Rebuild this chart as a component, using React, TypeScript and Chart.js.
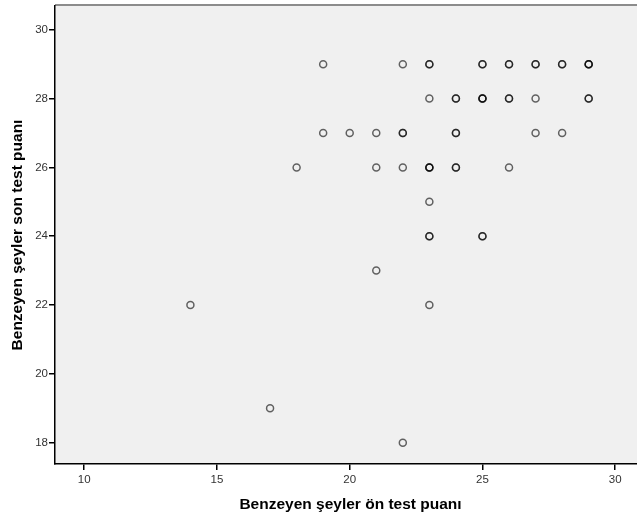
import React, { useEffect, useRef } from "react";
import { Chart, registerables } from "chart.js";

Chart.register(...registerables);

// Pre-test scores (x) and post-test scores (y); repeated pairs are overlapping observations
const preTest: number[] = [
  19, 22, 23, 23, 25, 25, 26, 26, 27, 27, 28, 28, 29, 29, 29,
  23, 24, 24, 25, 25, 25, 26, 26, 27, 29, 29,
  19, 20, 21, 22, 22, 24, 24, 27, 28,
  18, 21, 22, 23, 23, 23, 24, 24, 26,
  23,
  23, 23, 25, 25,
  21,
  14, 23,
  17,
  22,
];
const postTest: number[] = [
  29, 29, 29, 29, 29, 29, 29, 29, 29, 29, 29, 29, 29, 29, 29,
  28, 28, 28, 28, 28, 28, 28, 28, 28, 28, 28,
  27, 27, 27, 27, 27, 27, 27, 27, 27,
  26, 26, 26, 26, 26, 26, 26, 26, 26,
  25,
  24, 24, 24, 24,
  23,
  22, 22,
  19,
  18,
];

const xTicks: number[] = [10, 15, 20, 25, 30];
const yTicks: number[] = [18, 20, 22, 24, 26, 28, 30];

const xTitle = "Benzeyen şeyler ön test puanı";
const yTitle = "Benzeyen şeyler son test puanı";

export default function App() {
  const ref = useRef<HTMLCanvasElement | null>(null);

  useEffect(() => {
    if (!ref.current) return;
    const bgPlugin = {
      id: "bgPlugin",
      beforeDraw(chart: any) {
        const { ctx, chartArea } = chart;
        ctx.save();
        ctx.fillStyle = "#f0f0f0";
        ctx.fillRect(chartArea.left, chartArea.top, chartArea.right - chartArea.left, chartArea.bottom - chartArea.top);
        ctx.strokeStyle = "#8c8c8c";
        ctx.lineWidth = 2;
        ctx.beginPath();
        ctx.moveTo(chartArea.left, chartArea.top - 1);
        ctx.lineTo(chartArea.right, chartArea.top - 1);
        ctx.stroke();
        ctx.restore();
      },
      afterDraw(chart: any) {
        const { ctx } = chart;
        ctx.save();
        ctx.fillStyle = "#000";
        ctx.font = "bold 15.5px 'Liberation Sans', Arial, sans-serif";
        ctx.textAlign = "center";
        ctx.textBaseline = "alphabetic";
        ctx.fillText(xTitle, 350.5, 509);
        ctx.translate(22, 235);
        ctx.rotate(-Math.PI / 2);
        ctx.fillText(yTitle, 0, 0);
        ctx.restore();
      },
    };

    const chart = new Chart(ref.current, {
      type: "scatter",
      data: {
        datasets: [
          {
            data: preTest.map((x, i) => ({ x, y: postTest[i] })),
            pointStyle: "circle",
            pointRadius: 3.5,
            pointHoverRadius: 3.5,
            borderWidth: 1.5,
            borderColor: "rgba(0,0,0,0.6)",
            backgroundColor: "rgba(0,0,0,0)",
          },
        ],
      },
      options: {
        animation: false,
        responsive: false,
        maintainAspectRatio: false,
        layout: { autoPadding: false, padding: { top: 6, right: 0, left: 0, bottom: 0 } },
        plugins: { legend: { display: false }, tooltip: { enabled: false } },
        scales: {
          x: {
            type: "linear",
            min: 8.9,
            max: 30.82,
            afterBuildTicks: (s: any) => {
              s.ticks = xTicks.map((v) => ({ value: v }));
            },
            afterFit: (s: any) => {
              s.height = 51;
              s.paddingRight = 0;
              s.paddingLeft = 0;
            },
            grid: { drawOnChartArea: false, drawTicks: true, tickLength: 6, color: "#000", lineWidth: 1.5 },
            border: { display: true, color: "#000", width: 1.5 },
            ticks: { color: "#333", font: { family: "'Liberation Sans'", size: 11.5 }, padding: 3, maxRotation: 0, autoSkip: false },
          },
          y: {
            type: "linear",
            min: 17.38,
            max: 30.69,
            afterBuildTicks: (s: any) => {
              s.ticks = yTicks.map((v) => ({ value: v }));
            },
            afterFit: (s: any) => {
              s.width = 55;
              s.paddingTop = 0;
              s.paddingBottom = 0;
            },
            grid: { drawOnChartArea: false, drawTicks: true, tickLength: 6, color: "#000", lineWidth: 1.5 },
            border: { display: true, color: "#000", width: 1.5 },
            ticks: { color: "#333", font: { family: "'Liberation Sans'", size: 11.5 }, padding: 1, autoSkip: false },
          },
        },
      },
      plugins: [bgPlugin],
    });
    return () => chart.destroy();
  }, []);

  return (
    <div style={{ position: "absolute", left: 0, top: 0, width: 637, height: 515, background: "#fff" }}>
      <canvas ref={ref} width={637} height={515} style={{ width: 637, height: 515, display: "block" }} />
    </div>
  );
}
